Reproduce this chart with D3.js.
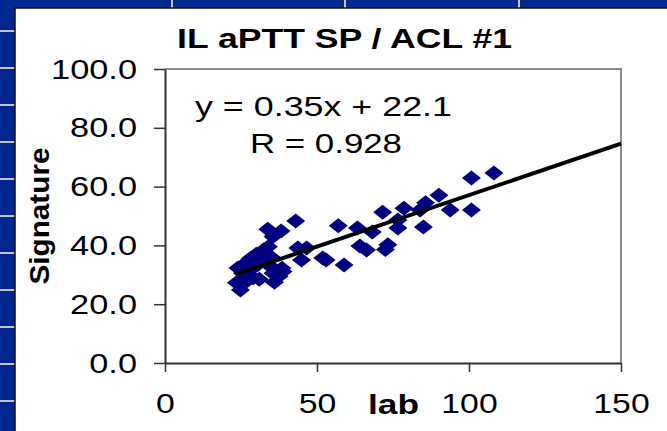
<!DOCTYPE html>
<html>
<head>
<meta charset="utf-8">
<script src="https://cdn.jsdelivr.net/npm/d3@7"></script>
<style>
  body { margin: 0; background: #00288f; }
  svg { display: block; }
  text { font-family: "Liberation Sans", Arial, sans-serif; }
</style>
</head>
<body>
<script>
// lab value vs Signature value
const labValues = [
  24.0, 23.5, 24.8, 25.5, 26.5, 27.0, 28.0, 28.5, 29.0, 30.0,
  30.5, 31.0, 32.0, 32.5, 33.0, 34.0, 34.5, 35.0, 35.5, 36.0,
  36.5, 37.5, 38.5, 38.8, 33.8, 35.5, 38.2, 43.0, 43.7, 46.6,
  44.9, 51.9, 53.0, 57.0, 58.9, 63.3, 64.1, 66.3, 68.2, 71.6,
  72.5, 73.3, 76.6, 76.6, 78.6, 83.9, 85.0, 85.7, 90.1, 93.8,
  100.8, 100.8, 108.2
];
const sigValues = [
  32.3, 27.3, 24.8, 30.5, 34.0, 28.0, 35.5, 32.0, 29.0, 37.0,
  33.5, 28.5, 36.5, 38.5, 35.0, 39.5, 33.0, 36.0, 30.5, 27.5,
  31.5, 29.5, 32.2, 31.1, 45.5, 43.0, 44.9, 48.3, 39.1, 39.1,
  35.0, 35.7, 35.0, 46.7, 33.3, 45.9, 39.8, 38.4, 44.6, 51.3,
  38.6, 40.2, 48.6, 45.9, 52.6, 52.0, 46.3, 54.5, 57.1, 52.0,
  52.0, 62.9, 64.6
];
const xTicks = [0, 50, 100, 150];
const yTicks = [0, 20, 40, 60, 80, 100];
const slope = 0.35, intercept = 22.1, fitFrom = 23.4, fitTo = 150;
const title = "IL aPTT SP / ACL #1";
const eqText = "y = 0.35x + 22.1";
const rText = "R = 0.928";

const width = 667, height = 431;
const stretch = 1.25; // the source image is wider than it is tall

const svg = d3.select("body").append("svg")
  .attr("width", width).attr("height", height);

// slide background: blue with light marks on the edges
svg.append("rect").attr("width", width).attr("height", height).attr("fill", "#00288f");
svg.append("g").selectAll("line")
  .data(d3.range(31, 420, 37))
  .join("line")
  .attr("x1", 0).attr("x2", 15).attr("y1", (d) => d).attr("y2", (d) => d)
  .attr("stroke", "#c4c4c4").attr("stroke-width", 2);
svg.append("g").selectAll("line")
  .data([172, 345, 519])
  .join("line")
  .attr("x1", (d) => d).attr("x2", (d) => d).attr("y1", 0).attr("y2", 9)
  .attr("stroke", "#c4c4c4").attr("stroke-width", 2);

// white chart panel
svg.append("rect")
  .attr("x", 15).attr("y", 8).attr("width", width).attr("height", height)
  .attr("fill", "#fff").attr("stroke", "#111").attr("stroke-width", 1.5);

const x = d3.scaleLinear().domain([0, 150]).range([165, 621]);
const y = d3.scaleLinear().domain([0, 100]).range([363, 69]);

// top and right frame of plot area
svg.append("path")
  .attr("d", `M${x(0)},${y(100)}H${x(150)}V${y(0)}`)
  .attr("fill", "none").attr("stroke", "#8c8c8c").attr("stroke-width", 2);

// y axis
svg.append("g")
  .attr("transform", `translate(${x(0)},0)`)
  .call(d3.axisLeft(y).tickValues(yTicks).tickFormat(d3.format(".1f")).tickSize(11).tickSizeOuter(0))
  .call((g) => g.select(".domain").attr("stroke", "#333").attr("stroke-width", 2))
  .call((g) => g.selectAll(".tick line").attr("stroke", "#333").attr("stroke-width", 1.5))
  .call((g) => g.selectAll(".tick text")
    .attr("x", 0).attr("dy", "0.33em")
    .attr("transform", `translate(-28,0) scale(${stretch},1)`)
    .attr("fill", "#000").style("font-size", "27.5px")
    .style("font-family", '"Liberation Sans", Arial, sans-serif'));

// x axis
svg.append("g")
  .attr("transform", `translate(0,${y(0)})`)
  .call(d3.axisBottom(x).tickValues(xTicks).tickSize(9).tickSizeOuter(0))
  .call((g) => g.select(".domain").attr("stroke", "#333").attr("stroke-width", 2))
  .call((g) => g.selectAll(".tick text")
    .attr("y", 0).attr("dy", "0.71em")
    .attr("transform", `translate(0,31) scale(${stretch},1)`)
    .attr("fill", "#000").style("font-size", "27px")
    .style("font-family", '"Liberation Sans", Arial, sans-serif'));
svg.selectAll(".tick line").attr("stroke", "#333").attr("stroke-width", 1.5);

// points as diamonds
const points = labValues.map((v, i) => [v, sigValues[i]]);
svg.append("g")
  .attr("fill", "#000080")
  .selectAll("path")
  .data(points)
  .join("path")
  .attr("d", (d) => {
    const cx = x(d[0]), cy = y(d[1]);
    return `M${cx - 9.5},${cy}L${cx},${cy - 7.5}L${cx + 9.5},${cy}L${cx},${cy + 7.5}Z`;
  });

// trend line
svg.append("line")
  .attr("x1", x(fitFrom)).attr("y1", y(slope * fitFrom + intercept))
  .attr("x2", x(fitTo)).attr("y2", y(slope * fitTo + intercept))
  .attr("stroke", "#000").attr("stroke-width", 4);

// texts
function label(txt, px, py, len, size, bold) {
  return svg.append("text")
    .attr("x", px).attr("y", py)
    .attr("textLength", len).attr("lengthAdjust", "spacingAndGlyphs")
    .style("font-size", size + "px")
    .style("font-weight", bold ? "bold" : "normal")
    .attr("fill", "#000")
    .text(txt);
}
label(title, 177, 48, 335, 27, true);
label(eqText, 195, 116, 257, 27, false);
label(rText, 250, 153, 152, 27, false);
label("lab", 368, 414, 51, 28, true);
label("Signature", 0, 0, 137, 27, true)
  .attr("text-anchor", "middle")
  .attr("transform", "translate(49,216) rotate(-90)");
</script>
</body>
</html>
